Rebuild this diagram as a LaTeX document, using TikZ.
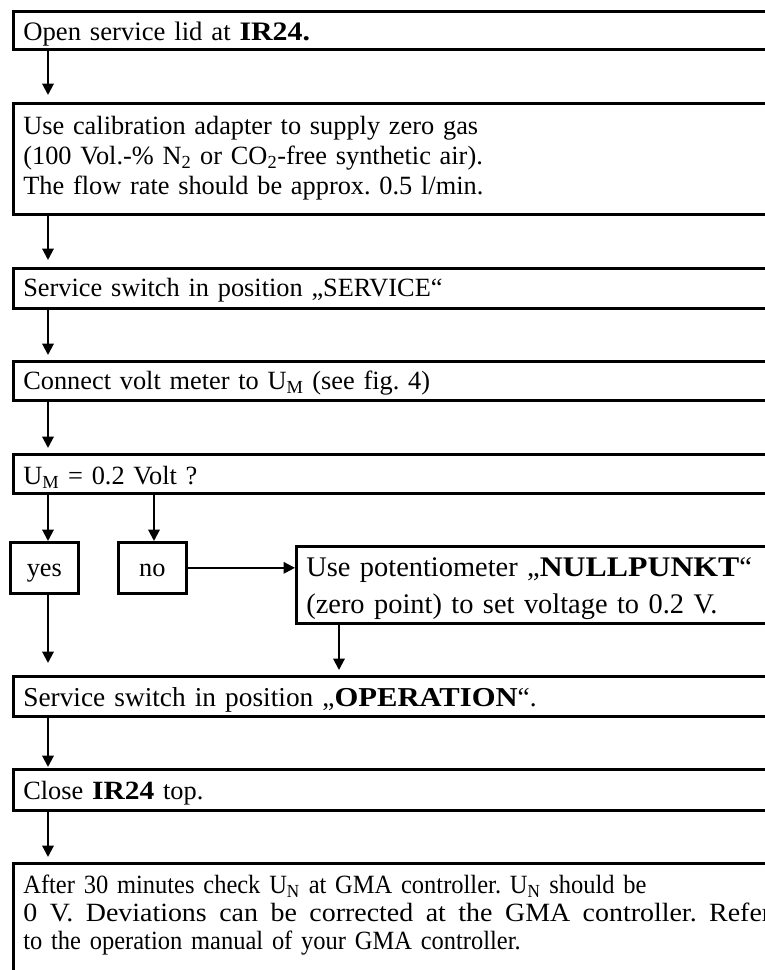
\documentclass[tikz,border=0pt]{standalone}
\usepackage{fontspec}
\setmainfont{Liberation Serif}[BoldFeatures={FakeStretch=1.12}]
\newfontfamily\narrowfont{Liberation Serif}[FakeStretch=0.93]
\usetikzlibrary{arrows.meta}
\frenchspacing
\newcommand{\flowfont}{\fontsize{19.75pt}{22.5pt}\selectfont}
\tikzset{
  stepbox/.style={draw, line width=2pt, anchor=north west, align=left,
                  text width=568.5pt, inner xsep=7.5pt, inner ysep=0pt, font=\flowfont},
  choicebox/.style={draw, line width=2pt, anchor=north west, minimum width=51pt,
                    inner sep=0pt, text height=25.5pt, text depth=12.75pt, font=\flowfont},
  arr/.style={-{Triangle[length=8.5pt, width=8.5pt]}, line width=1.5pt},
}

\begin{document}
\begin{tikzpicture}[x=0.75pt, y=-0.75pt]
    \useasboundingbox (0,0) rectangle (764,970);
    \node[stepbox, text height=21.75pt, text depth=6.75pt,
          font=\fontsize{20pt}{22.5pt}\selectfont] (open) at (12,10) {Open service lid at \textbf{IR24.}};
    \node[stepbox, text height=23.25pt, text depth=60pt] (calib) at (12,102)
      {Use calibration adapter to supply zero gas\\
       (100 Vol.-\% N\textsubscript{2} or CO\textsubscript{2}-free synthetic air).\\
       The flow rate should be approx. 0.5 l/min.};
    \node[stepbox, text height=21pt, text depth=9pt] (svc) at (12,267) {Service switch in position „SERVICE“};
    \node[stepbox, text height=21pt, text depth=8.25pt] (volt) at (12,360) {Connect volt meter to U\textsubscript{M} (see fig. 4)};
    \node[stepbox, text height=22.5pt, text depth=6.75pt] (check) at (12,453) {U\textsubscript{M} = 0.2 Volt ?};
    \node[choicebox] (yes) at (9,541) {yes};
    \node[choicebox] (no) at (117,541) {no};
    \node[stepbox, text width=360pt, text height=22.5pt, text depth=35.25pt,
          font=\fontsize{21.3pt}{27.75pt}\selectfont] (pot) at (295,545)
      {Use potentiometer „\textbf{NULLPUNKT}“\\ (zero point) to set voltage to 0.2 V.};
    \node[stepbox, text height=22.5pt, text depth=7.5pt,
          font=\fontsize{20.5pt}{22.5pt}\selectfont] (oper) at (12,675) {Service switch in position „\textbf{OPERATION}“.};
    \node[stepbox, text height=22.5pt, text depth=8.25pt] (close) at (12,768) {Close \textbf{IR24} top.};
    \node[stepbox, text height=22.5pt, text depth=72pt,
          font=\narrowfont\fontsize{19.75pt}{21pt}\selectfont] (wait) at (12,862)
      {After 30 minutes check U\textsubscript{N} at GMA controller. U\textsubscript{N} should be\\
       \scalebox{1.14}[1]{\makebox[492pt][s]{\spaceskip=.3333em plus 1em 0 V. Deviations can be corrected at the GMA controller. Refer}}\\
       to the operation manual of your GMA controller.};
    % main line
    \draw[arr, shorten >=5.25pt] ([xshift=27pt]open.south west) -- ([xshift=27pt]calib.north west);
    \draw[arr, shorten >=5.25pt] ([xshift=27pt]calib.south west) -- ([xshift=27pt]svc.north west);
    \draw[arr, shorten >=3.75pt] ([xshift=27pt]svc.south west) -- ([xshift=27pt]volt.north west);
    \draw[arr, shorten >=3.75pt] ([xshift=27pt]volt.south west) -- ([xshift=27pt]check.north west);
    \draw[arr] ([xshift=27pt]check.south west) -- ([xshift=27pt]check.south west |- yes.north);
    \draw[arr] ([xshift=106.5pt]check.south west) -- ([xshift=106.5pt]check.south west |- no.north);
    \draw[arr] (no.east) -- (no.east -| pot.west);
    \draw[arr, shorten >=9pt] ([xshift=27pt]oper.north west |- yes.south) -- ([xshift=27pt]oper.north west);
    \draw[arr, shorten >=3.75pt] ([xshift=33pt]pot.south west) -- ([xshift=33pt]pot.south west |- oper.north);
    \draw[arr, shorten >=0.75pt] ([xshift=27pt]oper.south west) -- ([xshift=27pt]close.north west);
    \draw[arr, shorten >=3.75pt] ([xshift=27pt]close.south west) -- ([xshift=27pt]wait.north west);
\end{tikzpicture}
\end{document}
